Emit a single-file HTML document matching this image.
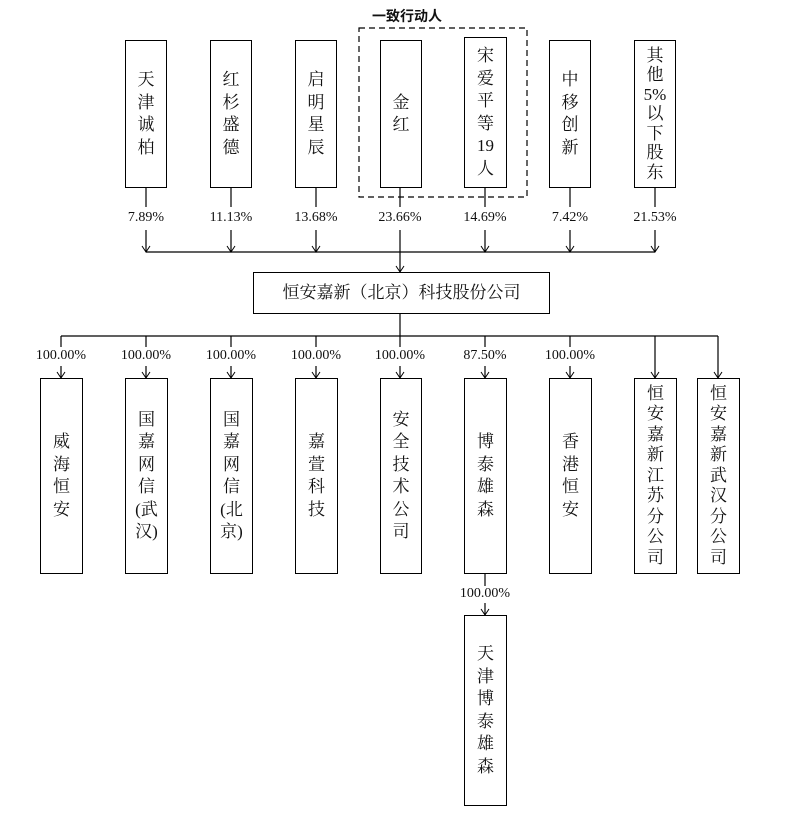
<!DOCTYPE html>
<html><head><meta charset="utf-8"><style>
body{margin:0;background:#fff;width:805px;height:814px;position:relative;overflow:hidden;font-family:"Liberation Serif","Noto Serif CJK SC","Noto Sans CJK SC",serif;color:#111}
.b{position:absolute;border:1.3px solid #000;box-sizing:border-box;display:flex;flex-direction:column;align-items:center;justify-content:center;font-size:17px;line-height:22.5px;text-align:center;background:#fff}
.p{position:absolute;font-size:14px;width:80px;text-align:center;margin-left:-40px}
svg{position:absolute;left:0;top:0}
</style></head><body>
<svg width="805" height="814">
<defs><marker id="a" markerWidth="10" markerHeight="10" refX="8" refY="5" orient="auto" markerUnits="userSpaceOnUse"><path d="M2,1 L8,5 L2,9" fill="none" stroke="#000" stroke-width="1"/></marker></defs>
<g stroke="#000" stroke-width="1.2" fill="none">
<rect x="359" y="28" width="168" height="169" stroke-dasharray="6,4"/>
<line x1="146" y1="187" x2="146" y2="207"/><line x1="231" y1="187" x2="231" y2="207"/><line x1="316" y1="187" x2="316" y2="207"/><line x1="400" y1="187" x2="400" y2="207"/><line x1="485" y1="187" x2="485" y2="207"/><line x1="570" y1="187" x2="570" y2="207"/><line x1="655" y1="187" x2="655" y2="207"/>
<line x1="146" y1="230" x2="146" y2="252" marker-end="url(#a)"/><line x1="231" y1="230" x2="231" y2="252" marker-end="url(#a)"/><line x1="316" y1="230" x2="316" y2="252" marker-end="url(#a)"/><line x1="485" y1="230" x2="485" y2="252" marker-end="url(#a)"/><line x1="570" y1="230" x2="570" y2="252" marker-end="url(#a)"/><line x1="655" y1="230" x2="655" y2="252" marker-end="url(#a)"/>
<line x1="146" y1="252" x2="655" y2="252"/>
<line x1="400" y1="230" x2="400" y2="272" marker-end="url(#a)"/>
<line x1="400" y1="313" x2="400" y2="336"/>
<line x1="61" y1="336" x2="718" y2="336"/>
<line x1="61" y1="336" x2="61" y2="347"/><line x1="146" y1="336" x2="146" y2="347"/><line x1="231" y1="336" x2="231" y2="347"/><line x1="316" y1="336" x2="316" y2="347"/><line x1="400" y1="336" x2="400" y2="347"/><line x1="485" y1="336" x2="485" y2="347"/><line x1="570" y1="336" x2="570" y2="347"/>
<line x1="61" y1="366" x2="61" y2="378" marker-end="url(#a)"/><line x1="146" y1="366" x2="146" y2="378" marker-end="url(#a)"/><line x1="231" y1="366" x2="231" y2="378" marker-end="url(#a)"/><line x1="316" y1="366" x2="316" y2="378" marker-end="url(#a)"/><line x1="400" y1="366" x2="400" y2="378" marker-end="url(#a)"/><line x1="485" y1="366" x2="485" y2="378" marker-end="url(#a)"/><line x1="570" y1="366" x2="570" y2="378" marker-end="url(#a)"/>
<line x1="655" y1="336" x2="655" y2="378" marker-end="url(#a)"/><line x1="718" y1="336" x2="718" y2="378" marker-end="url(#a)"/>
<line x1="485" y1="573" x2="485" y2="586"/>
<line x1="485" y1="603" x2="485" y2="615" marker-end="url(#a)"/>
</g>
</svg>
<div style="position:absolute;left:372px;top:6px;font-size:14px;font-weight:bold;font-family:'Noto Sans CJK SC',sans-serif">一致行动人</div>
<div class="b" style="left:125px;top:40px;width:42px;height:148px">天<br>津<br>诚<br>柏</div>
<div class="b" style="left:210px;top:40px;width:42px;height:148px">红<br>杉<br>盛<br>德</div>
<div class="b" style="left:295px;top:40px;width:42px;height:148px">启<br>明<br>星<br>辰</div>
<div class="b" style="left:380px;top:40px;width:42px;height:148px">金<br>红</div>
<div class="b" style="left:464px;top:37px;width:43px;height:151px">宋<br>爱<br>平<br>等<br>19<br>人</div>
<div class="b" style="left:549px;top:40px;width:42px;height:148px">中<br>移<br>创<br>新</div>
<div class="b" style="left:634px;top:40px;width:42px;height:148px;line-height:19.5px">其<br>他<br>5%<br>以<br>下<br>股<br>东</div>
<div class="p" style="left:146px;top:210px">7.89%</div>
<div class="p" style="left:231px;top:210px">11.13%</div>
<div class="p" style="left:316px;top:210px">13.68%</div>
<div class="p" style="left:400px;top:210px">23.66%</div>
<div class="p" style="left:485px;top:210px">14.69%</div>
<div class="p" style="left:570px;top:210px">7.42%</div>
<div class="p" style="left:655px;top:210px">21.53%</div>
<div class="b" style="left:253px;top:272px;width:297px;height:42px;font-size:17px">恒安嘉新（北京）科技股份公司</div>
<div class="p" style="left:61px;top:348px">100.00%</div>
<div class="p" style="left:146px;top:348px">100.00%</div>
<div class="p" style="left:231px;top:348px">100.00%</div>
<div class="p" style="left:316px;top:348px">100.00%</div>
<div class="p" style="left:400px;top:348px">100.00%</div>
<div class="p" style="left:485px;top:348px">87.50%</div>
<div class="p" style="left:570px;top:348px">100.00%</div>
<div class="b" style="left:40px;top:378px;width:43px;height:196px">威<br>海<br>恒<br>安</div>
<div class="b" style="left:125px;top:378px;width:43px;height:196px">国<br>嘉<br>网<br>信<br>(武<br>汉)</div>
<div class="b" style="left:210px;top:378px;width:43px;height:196px">国<br>嘉<br>网<br>信<br>(北<br>京)</div>
<div class="b" style="left:295px;top:378px;width:43px;height:196px">嘉<br>萱<br>科<br>技</div>
<div class="b" style="left:380px;top:378px;width:42px;height:196px">安<br>全<br>技<br>术<br>公<br>司</div>
<div class="b" style="left:464px;top:378px;width:43px;height:196px">博<br>泰<br>雄<br>森</div>
<div class="b" style="left:549px;top:378px;width:43px;height:196px">香<br>港<br>恒<br>安</div>
<div class="b" style="left:634px;top:378px;width:43px;height:196px;line-height:20.5px">恒<br>安<br>嘉<br>新<br>江<br>苏<br>分<br>公<br>司</div>
<div class="b" style="left:697px;top:378px;width:43px;height:196px;line-height:20.5px">恒<br>安<br>嘉<br>新<br>武<br>汉<br>分<br>公<br>司</div>
<div class="p" style="left:485px;top:586px">100.00%</div>
<div class="b" style="left:464px;top:615px;width:43px;height:191px">天<br>津<br>博<br>泰<br>雄<br>森</div>
</body></html>
